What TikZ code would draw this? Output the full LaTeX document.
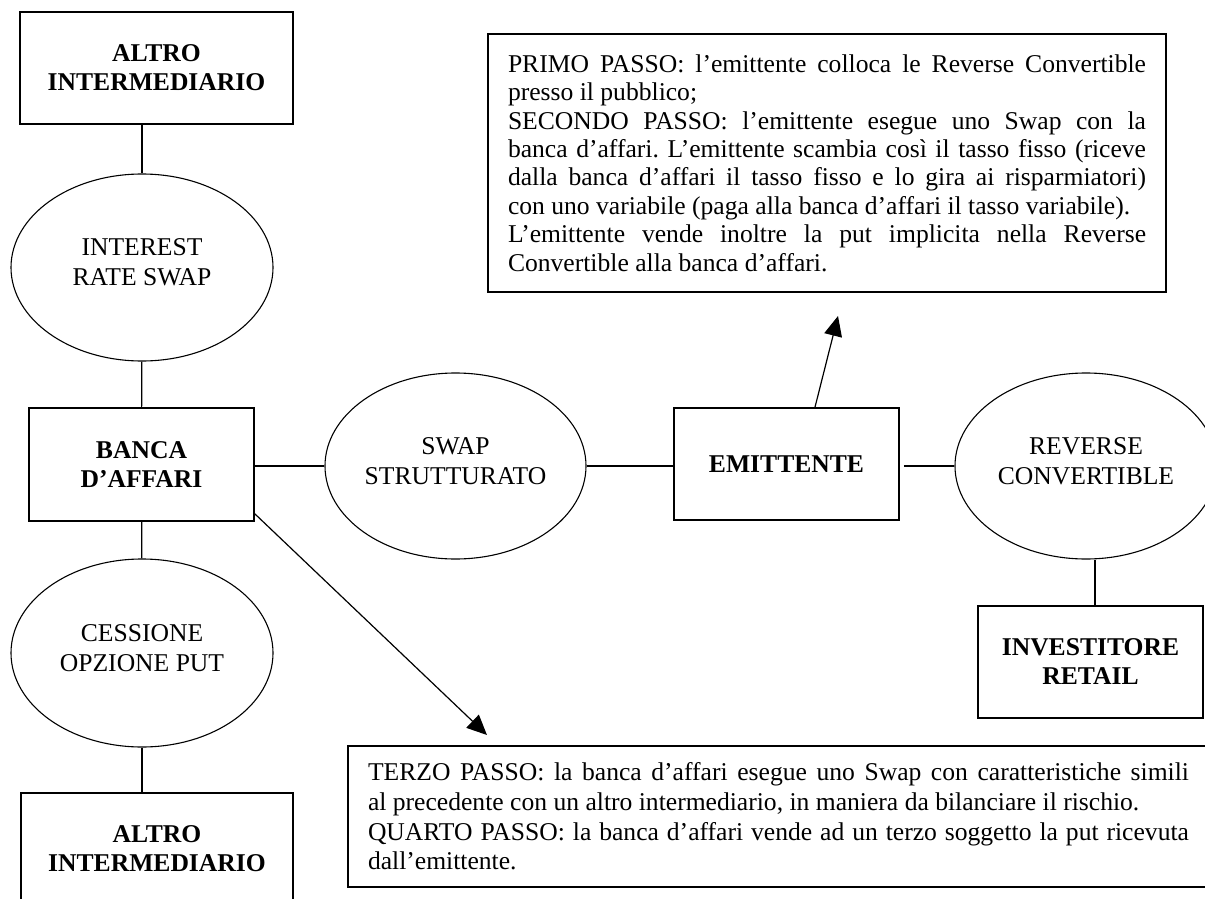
\documentclass[tikz,border=0pt]{standalone}
\usepackage{fontspec}
\setmainfont{Liberation Serif}
\usepackage{tikz}
\usetikzlibrary{arrows.meta,shapes.geometric}
\setlength{\parindent}{0pt}
\setlength{\parskip}{0pt}
\tolerance=10000
\hbadness=10000
\frenchspacing
\tikzset{
  partybox/.style={
    rectangle, draw, line width=0.85pt,
    minimum width=#1, minimum height=56pt,
    font=\fontsize{12.8}{14.5}\selectfont\bfseries, align=center,
    inner sep=0pt
  },
  partybox/.default=112.5pt,
  dealoval/.style={
    ellipse, draw, line width=0.55pt,
    minimum width=131pt, minimum height=93.5pt,
    font=\fontsize{12.8}{15}\selectfont, align=center,
    inner sep=0pt, text depth=5pt
  },
  notebox/.style={
    rectangle, draw, line width=0.75pt,
    text width=#1, align=justify, inner sep=0pt,
    font=\fontsize{12.8}{14.2}\selectfont
  },
  link/.style={line width=0.6pt},
  pointer/.style={-{Triangle[length=10pt,width=9pt]}, line width=0.6pt},
}

\begin{document}
\begin{tikzpicture}[x=0.5pt, y=-0.5pt]
  \useasboundingbox (0,0) rectangle (1205,899);
  \clip (0,0) rectangle (1205,899);

  % ── Left column ────────────────
  \node[partybox=136.5pt] (altroA) at (156.5,68) {ALTRO\\INTERMEDIARIO};
  \node[dealoval] (irs) at (142,267.5) {INTEREST\\RATE SWAP};
  \node[partybox, minimum height=56.5pt] (banca) at (141.5,464.5) {BANCA\\D’AFFARI};
  \node[dealoval, minimum height=94pt] (put) at (142,653) {CESSIONE\\OPZIONE PUT};
  \node[partybox=136pt] (altroB) at (157,849) {ALTRO\\INTERMEDIARIO};
  \draw[link] (altroA.south -| irs.north) -- (irs.north);
  \draw[link] (irs) -- (banca);
  \draw[link] (banca) -- (put);
  \draw[link] (put.south) -- (put.south |- altroB.north);

  % ── Middle row ─────────────────
  \node[dealoval, minimum width=130.5pt, minimum height=93pt] (swap) at (455.5,466)
    {SWAP\\STRUTTURATO};
  \node[partybox] (emit) at (786.5,464) {EMITTENTE};
  \node[dealoval, minimum height=93pt] (rc) at (1086,466) {REVERSE\\CONVERTIBLE};
  \node[partybox] (retail) at (1090.5,662) {INVESTITORE\\RETAIL};
  \draw[link] (swap.west -| banca.east) -- (swap.west);
  \draw[link] (swap.east) -- (swap.east -| emit.west);
  \draw[link, shorten <=2pt] (rc.west -| emit.east) -- (rc.west);
  \draw[link] ([xshift=2.25pt]retail.north) -- ([xshift=2.25pt]retail.north |- rc.south);

  % ── Notes ──────────────────────
  \node[notebox=319pt, minimum width=339pt, minimum height=129pt] (passiA) at (827,163)
    {PRIMO PASSO: l’emittente colloca le Reverse Convertible\linebreak
     presso il pubblico;\par
     SECONDO PASSO: l’emittente esegue uno Swap con la\linebreak
     banca d’affari. L’emittente scambia così il tasso fisso (riceve\linebreak
     dalla banca d’affari il tasso fisso e lo gira ai risparmiatori)\linebreak
     con uno variabile (paga alla banca d’affari il tasso variabile).\par
     L’emittente vende inoltre la put implicita nella Reverse\linebreak
     Convertible alla banca d’affari.};
  \node[notebox=410.5pt, minimum width=430.5pt, minimum height=70.5pt,
    font=\fontsize{12.8}{14.8}\selectfont] (passiB) at (778.5,816.5)
    {TERZO PASSO: la banca d’affari esegue uno Swap con caratteristiche simili\linebreak
     al precedente con un altro intermediario, in maniera da bilanciare il rischio.\par
     QUARTO PASSO: la banca d’affari vende ad un terzo soggetto la put ricevuta\linebreak
     dall’emittente.};
  \coordinate (tipA) at (838,316);
  \coordinate (tipB) at (487,735);
  \draw[pointer] ([xshift=14.25pt]emit.north) -- (tipA);
  \draw[pointer] ([yshift=4pt]banca.south east) -- (tipB);
\end{tikzpicture}
\end{document}
